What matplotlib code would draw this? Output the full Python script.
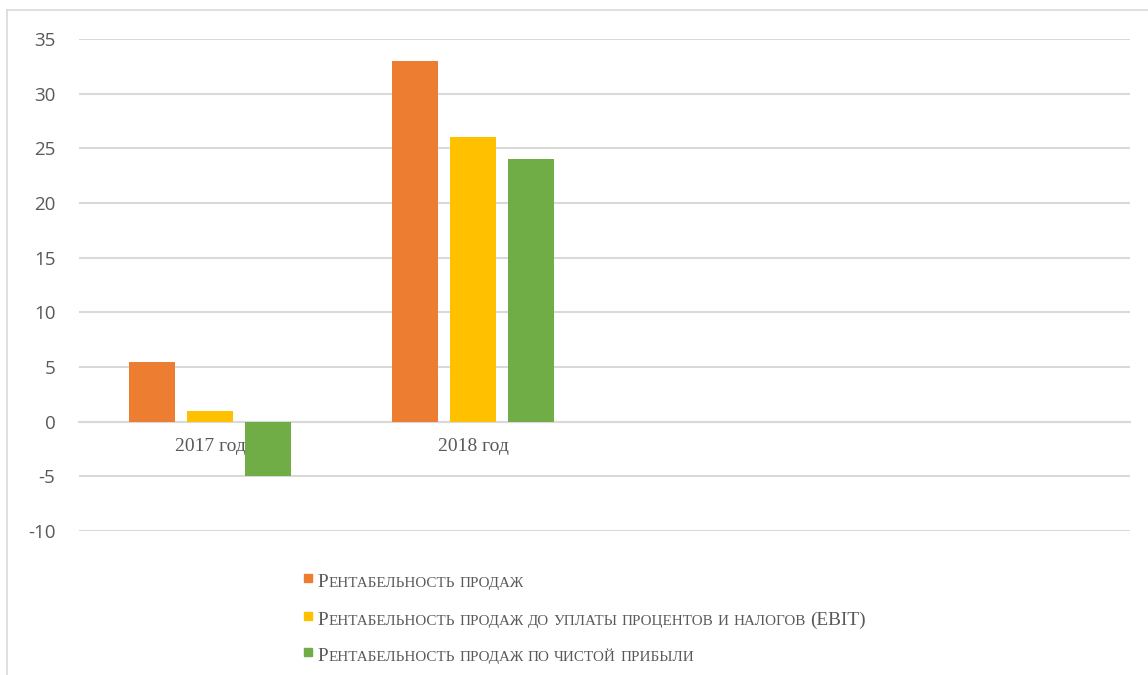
import numpy as np
import matplotlib
matplotlib.use('Agg')
import matplotlib.pyplot as plt
from matplotlib.lines import Line2D
from matplotlib.patches import Rectangle

plt.rcParams['axes.unicode_minus'] = False

# data
categories = ["2017 год", "2018 год", "", ""]
series_names = ["Рентабельность продаж",
                "Рентабельность продаж до уплаты процентов и налогов (EBIT)",
                "Рентабельность продаж по чистой прибыли"]
sales_margin = [5.5, 33, np.nan, np.nan]
ebit_margin = [1.0, 26, np.nan, np.nan]
net_margin = [-5.0, 24, np.nan, np.nan]
y_ticks = [-10, -5, 0, 5, 10, 15, 20, 25, 30, 35]

colors = ["#ED7D31", "#FFC000", "#70AD47"]
grid_col = "#D9D9D9"
text_col = "#595959"

W, H = 1148, 675
fig = plt.figure(figsize=(W / 100, H / 100), dpi=100)

# chart frame (light border on top / left)
fig.add_artist(Line2D([7 / W, 7 / W], [0, 1 - 10 / H], color=grid_col, lw=1.2))
fig.add_artist(Line2D([7 / W, 1], [1 - 10 / H, 1 - 10 / H], color=grid_col, lw=1.2))

ax = fig.add_axes([79 / W, 1 - 531 / H, (1130 - 79) / W, (531 - 39) / H])

x = np.arange(len(categories))
width = 0.175
offset = 0.2207
for i, vals in enumerate([sales_margin, ebit_margin, net_margin]):
    ax.bar(x + (i - 1) * offset, vals, width, color=colors[i], zorder=3)

ax.set_xlim(-0.5, len(categories) - 0.5)
ax.set_ylim(-10, 35)
ax.set_yticks(y_ticks)
ax.yaxis.grid(True, color=grid_col, lw=1.5, zorder=0)
ax.set_axisbelow(True)
for s in ["left", "right", "top"]:
    ax.spines[s].set_visible(False)
ax.spines["bottom"].set_position(("data", 0))
ax.spines["bottom"].set_color(grid_col)
ax.spines["bottom"].set_linewidth(1.5)
ax.set_xticks(x)
ax.set_xticklabels(categories, fontfamily="Liberation Serif", fontsize=14, color=text_col)
ax.tick_params(axis="x", length=0, pad=12)
ax.tick_params(axis="y", length=0, pad=17, labelsize=13.5, labelcolor=text_col)
for lab in ax.get_yticklabels():
    lab.set_fontfamily("Open Sans")

# legend written in small caps (capital letters full size, the rest smaller)
big, small = 13.9, 10.9
renderer = fig.canvas.get_renderer()


def small_caps(x0, y0, label):
    xp = x0
    words = label.split(" ")
    for k, word in enumerate(words):
        segs = []
        for ch in word:
            is_big = not ch.islower()
            if segs and segs[-1][1] == is_big:
                segs[-1][0] += ch
            else:
                segs.append([ch, is_big])
        for s, is_big in segs:
            t = fig.text(xp / W, 1 - y0 / H, s.upper(), fontsize=big if is_big else small,
                         family="Liberation Serif", color=text_col, va="baseline", ha="left")
            xp += t.get_window_extent(renderer).width + 0.6
        xp += small * 100 / 72 * 0.25


leg_y = [587, 625, 661]
for i, name in enumerate(series_names):
    fig.add_artist(Rectangle((304 / W, 1 - (leg_y[i] - 5) / H), 8 / W, 8 / H,
                             color=colors[i], transform=fig.transFigure))
    small_caps(317, leg_y[i], name)

fig.savefig("out.png", dpi=100, facecolor="white")
